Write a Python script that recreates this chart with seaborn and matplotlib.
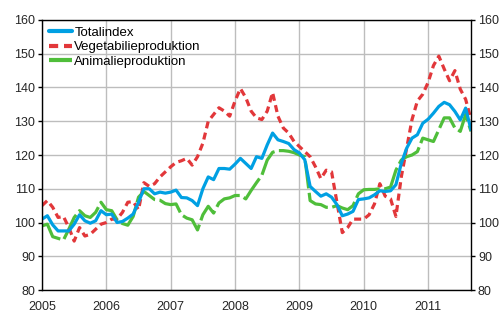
import numpy as np
import pandas as pd
import matplotlib
matplotlib.use("Agg")
import matplotlib.pyplot as plt
import seaborn as sns

# Monthly data, January 2005 - September 2011
totalindex = [
    101, 102, 99.3, 97.5, 97.5, 97.5, 99.5, 102.3, 100.5, 99.8, 100.5, 103.5,
    102.3, 102.5, 100, 100.3, 101.3, 102.5, 106, 110, 110, 108.5, 109, 108.7,
    109, 109.6, 107.4, 107.3, 106.5, 105, 110, 113.5, 112.7, 116, 116, 115.8,
    117.3, 119, 117.5, 116, 119.5, 119, 123, 126.5, 124.5, 124, 123.4, 121.6,
    120.6, 118.6, 110.7, 109.2, 107.8, 108.5, 107.5, 105.3, 102, 102.5, 103.3, 106.8,
    107, 107.3, 108.2, 109.4, 109.2, 109.4, 111.2, 117.5, 122, 125, 126, 129.4,
    130.6, 132.4, 134.4, 135.6, 134.9, 132.9, 130.4, 133.9, 127.5,
]
vegetabilie = [
    105, 106.5, 104.5, 101.5, 101.8, 98.5, 94.5, 98.5, 96, 96.5, 98, 99.5,
    100, 101, 101, 103, 106, 106.2, 103.8, 111.8, 110.7, 111.5, 113.5, 115,
    116.5, 117.8, 118.3, 119, 117, 119.5, 123.5, 130, 132, 134, 133, 131.5,
    136, 139.7, 137, 133, 131, 130.5, 133, 138.5, 131.5, 128, 126.5, 124,
    122.5, 121, 119.5, 116.5, 113, 115.5, 115, 106, 97, 98.5, 101, 101,
    101, 102.3, 105.5, 111.5, 107.8, 107, 101.8, 113.5, 122, 130.5, 136, 138,
    141.5, 146.5, 149.3, 145.5, 142, 145, 139.5, 136.5, 130.5,
]
animalie = [
    99, 99.5, 95.8, 95.3, 94.8, 98, 101.5, 103.5, 102, 101.5, 103, 106,
    103.8, 103.5, 100.8, 99.7, 99.2, 101.8, 107.5, 109.2, 108, 106.8, 106.6, 105.6,
    105.3, 105.5, 102.3, 101.3, 100.8, 97.8, 102.3, 104.8, 102.8, 105.8, 107, 107.3,
    108, 108, 107, 109.5, 111.8, 114, 118.5, 120.8, 121.3, 121.3, 121.1, 120.7,
    120, 119.5, 106.5, 105.5, 105.3, 104.5, 104.5, 105, 104.3, 103.8, 105, 108.5,
    109.7, 109.8, 109.8, 110, 110, 110.5, 115.5, 118.5, 119.5, 120, 121, 125,
    124.5, 124, 127.5, 131, 131, 128, 127, 132, 127,
]
series_names = ["Totalindex", "Vegetabilieproduktion", "Animalieproduktion"]
year_ticks = [2005, 2006, 2007, 2008, 2009, 2010, 2011]
y_ticks = [80, 90, 100, 110, 120, 130, 140, 150, 160]

n = len(totalindex)
t = 2005 + np.arange(n) / 12.0
df = pd.DataFrame({
    "t": np.concatenate([t, t, t]),
    "value": totalindex + vegetabilie + animalie,
    "serie": [series_names[0]] * n + [series_names[1]] * n + [series_names[2]] * n,
})

sns.set_theme(style="white")
plt.rcParams["font.family"] = ["Liberation Sans", "DejaVu Sans"]

fig = plt.figure(figsize=(5.0, 3.3), dpi=100)
ax = fig.add_axes([0.084, 0.1212, 0.858, 0.8182])

colors = {"Totalindex": "#00a0e3", "Vegetabilieproduktion": "#e2373a",
          "Animalieproduktion": "#4fbe3a"}
styles = {"Totalindex": "-", "Vegetabilieproduktion": (0, (2.2, 1.4)),
          "Animalieproduktion": (0, (8.5, 1.4))}
order = ["Animalieproduktion", "Vegetabilieproduktion", "Totalindex"]
for name in order:
    sub = df[df["serie"] == name]
    sns.lineplot(data=sub, x="t", y="value", ax=ax, color=colors[name],
                 linewidth=2.3, linestyle=styles[name], label=name)

ax.set_xlim(2005, 2005 + (n - 1) / 12.0)
ax.set_ylim(80, 160)
ax.set_xticks(year_ticks)
ax.set_xticklabels([str(y) for y in year_ticks])
ax.set_yticks(y_ticks)
ax.set_xlabel("")
ax.set_ylabel("")
ax.grid(True, color="#bdbdbd", linewidth=1.0)
ax.set_axisbelow(True)
for s in ax.spines.values():
    s.set_color("black")
    s.set_linewidth(1.0)
    s.set_visible(True)
ax.tick_params(axis="y", which="both", left=True, right=True, labelleft=True,
               labelright=True, length=3, width=1, color="black",
               labelsize=9, pad=2, direction="out")
ax.tick_params(axis="x", bottom=False, labelsize=9, pad=2)

h, l = ax.get_legend_handles_labels()
hd = dict(zip(l, h))
leg = ax.legend([hd[k] for k in series_names], series_names, loc="upper left",
                frameon=False, fontsize=9.5, handlelength=1.75, handletextpad=0.2,
                labelspacing=0.17, borderaxespad=0.4, borderpad=0.1)
for line in leg.get_lines():
    line.set_linewidth(3)
for txt in leg.get_texts():
    txt.set_color("black")

fig.savefig("out.png", dpi=100)
